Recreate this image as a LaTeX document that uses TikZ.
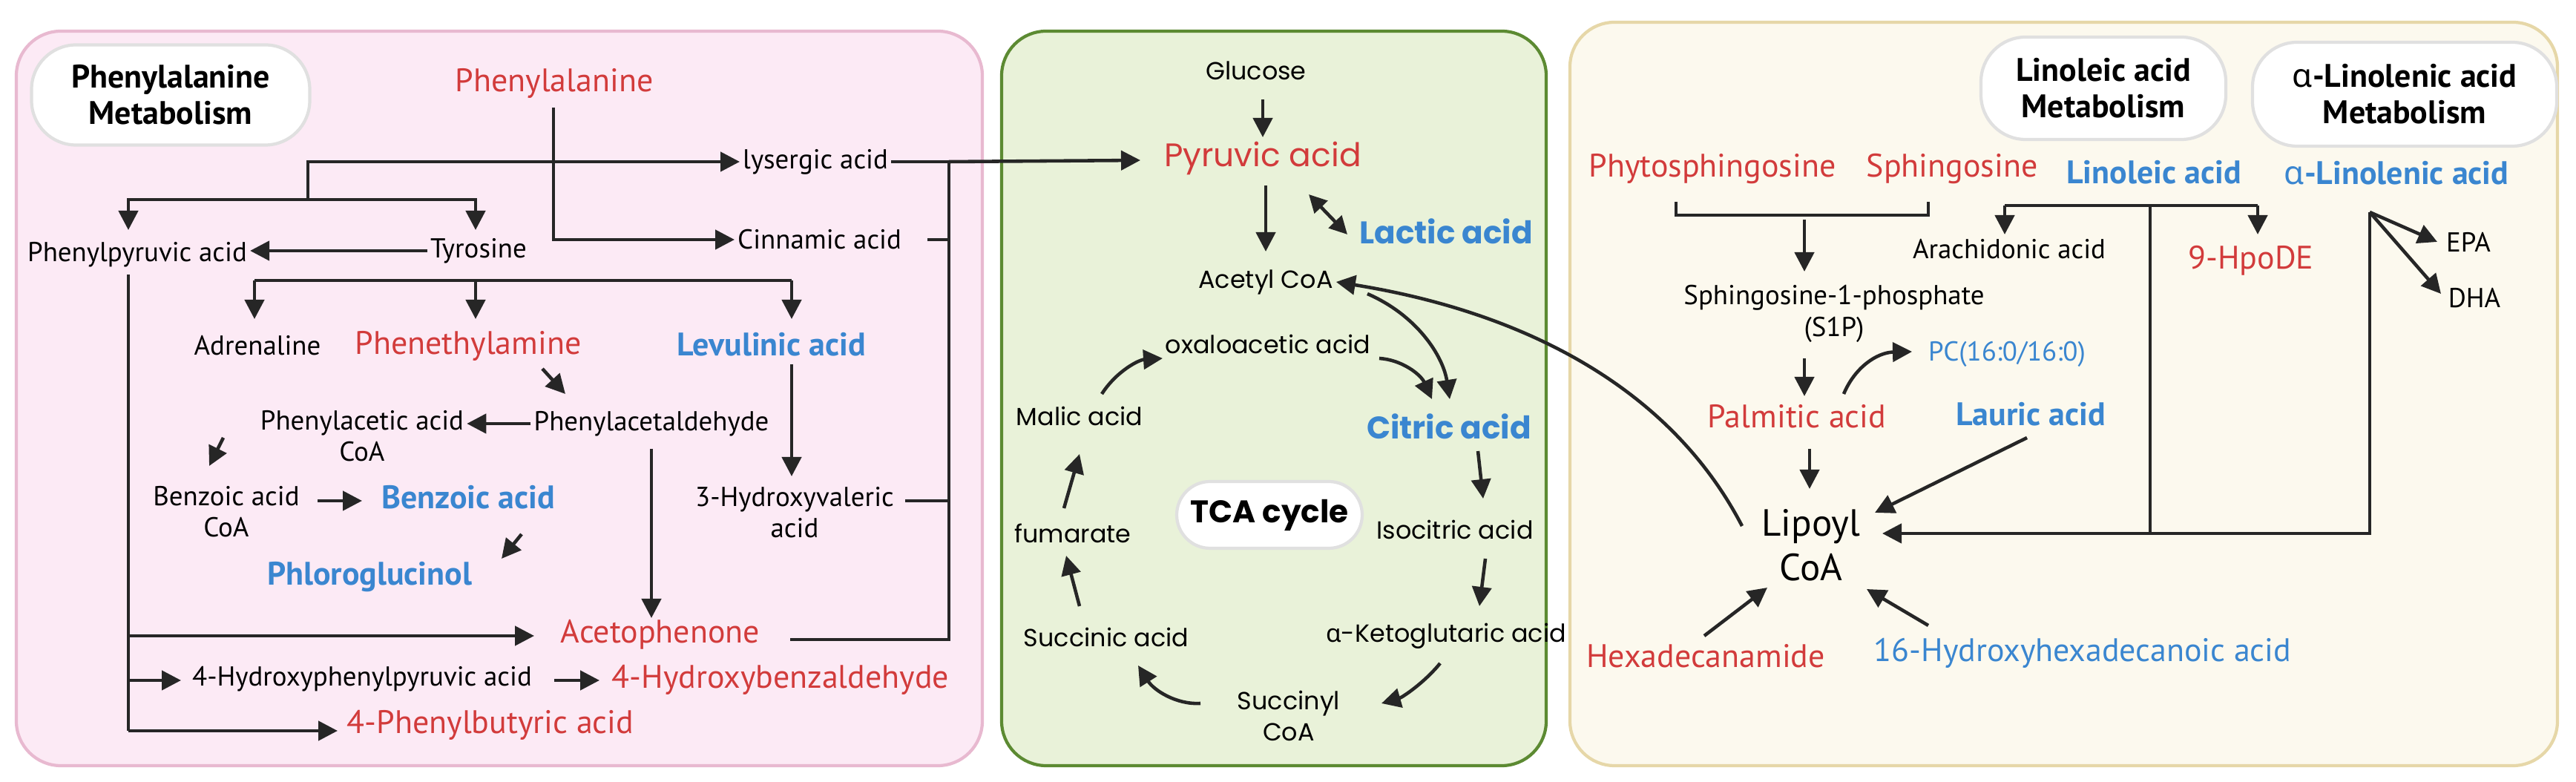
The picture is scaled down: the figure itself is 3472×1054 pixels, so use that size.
\documentclass[tikz,border=0pt]{standalone}
\usepackage{fontspec}
\setmainfont{PT Sans}
\newfontfamily\geo{Poppins}
\newfontfamily\gk{Noto Sans}
\newcommand{\alp}{{\gk α}}
\usetikzlibrary{arrows.meta}
\definecolor{rd}{HTML}{D23B3B}
\definecolor{bl}{HTML}{3A86D0}
\definecolor{pinkF}{HTML}{FCEAF5}\definecolor{pinkD}{HTML}{E8B9D0}
\definecolor{grF}{HTML}{E9F2D9}\definecolor{grD}{HTML}{5C8A32}
\definecolor{crF}{HTML}{FCF9EE}\definecolor{crD}{HTML}{E6D7A8}
\begin{document}
\begin{tikzpicture}[x=0.1mm,y=-0.1mm,
  panel/.style={rounded corners=6mm,line width=1.2pt},
  bub/.style={draw=black!12,fill=white,line width=1.2pt,rounded corners=6mm,align=center,font=\fontsize{12.5}{14}\selectfont\bfseries,inner sep=0pt},
  t/.style={font=\fontsize{10.5}{12}\selectfont,align=center,inner sep=1pt},
  R/.style={font=\fontsize{12.5}{14}\selectfont,text=rd,inner sep=1pt},
  B/.style={font=\fontsize{12.5}{14}\selectfont\bfseries,text=bl,inner sep=1pt},
  g/.style={font=\fontsize{9.5}{12}\selectfont\geo,align=center,inner sep=1pt},
  gR/.style={font=\fontsize{12.5}{14}\selectfont\geo,text=rd,inner sep=1pt},
  gB/.style={font=\fontsize{12}{14}\selectfont\geo\bfseries,text=bl,inner sep=1pt},
  ln/.style={line width=1.3pt,draw=black!85},
  ar/.style={ln,-{Triangle[length=2.6mm,width=2.6mm]}},
  dar/.style={ln,{Triangle[length=2.4mm,width=2.4mm]}-{Triangle[length=2.4mm,width=2.4mm]}}]
\useasboundingbox (0,0) rectangle (3472,1054);
% panels
\draw[panel,fill=pinkF,draw=pinkD] (22,42) rectangle (1324,1032);
\draw[panel,fill=grF,draw=grD] (1350,42) rectangle (2084,1032);
\draw[panel,fill=crF,draw=crD] (2116,30) rectangle (3447,1032);
% ---------- panel 1
\node[bub,minimum width=37.5mm,minimum height=13.5mm] (t1) at (230,128) {Phenylalanine\\Metabolism};
\node[R] (phe) at (747,112) {Phenylalanine};
\node[t,anchor=west] (lys) at (997,218) {lysergic acid};
\node[t,anchor=west] (cin) at (990,323) {Cinnamic acid};
\node[t] (ppa) at (185,343) {Phenylpyruvic acid};
\node[t] (tyr) at (645,338) {Tyrosine};
\node[t] (adr) at (347,466) {Adrenaline};
\node[R] (pea) at (631,466) {Phenethylamine};
\node[B] (lev) at (1040,464) {Levulinic acid};
\node[t] (pald) at (878,571) {Phenylacetaldehyde};
\node[t] (paca) at (488,588) {Phenylacetic acid\\CoA};
\node[t] (bzca) at (305,690) {Benzoic acid\\CoA};
\node[B] (bz) at (631,670) {Benzoic acid};
\node[B] (phl) at (498,778) {Phloroglucinol};
\node[t] (hva) at (1071,691) {3-Hydroxyvaleric\\acid};
\node[R] (aceto) at (890,855) {Acetophenone};
\node[t] (hppa) at (488,915) {4-Hydroxyphenylpyruvic acid};
\node[R] (hbz) at (1052,916) {4-Hydroxybenzaldehyde};
\node[R] (pba) at (661,977) {4-Phenylbutyric acid};
\coordinate (pheb) at (746,145);
\coordinate (k1) at (415,218);
\coordinate (k2) at (415,269);
\draw[ar] (pheb) |- (cin.west);
\draw[ar] (k2) -- (k1) -- (lys.west);
\draw[ar] (k2) -| (173,310);
\draw[ar] (k2) -| (641,310);
\draw[ar] (tyr.west) -- (ppa.east |- tyr.west);
\coordinate (bar1) at (343,378); \coordinate (bar2) at (1067,378);
\draw[ln] (bar1) -- (bar2);
\draw[ar] (bar1) -- (343,430);
\draw[ar] (641,378) -- (641,430);
\draw[ar] (bar2) -- (1067,430);
\draw[ar] (731,497) -- (762,531);
\draw[ar] (pald.west) -- (paca.east |- pald.west);
\draw[ar] (301,590) -- (282,628);
\draw[ar] (428,675) -- (488,675);
\draw[ar] (703,720) -- (676,753);
\draw[ar] (878,605) -- (878,833);
\draw[ar] (1067,491) -- (1067,642);
% right trunk
\coordinate (rt1) at (1279,218); \coordinate (rt2) at (1279,862);
\draw[ln] (lys.east) -- (rt1) -- (rt2) -- (1065,862);
\draw[ln] (1250,323) -- (1279,323);
\draw[ln] (1220,675) -- (1279,675);
% left trunk
\coordinate (lt1) at (173,370); \coordinate (lt2) at (173,985);
\draw[ln] (lt1) -- (lt2);
\draw[ar] (173,857) -- (720,857);
\draw[ar] (173,917) -- (244,917);
\draw[ar] (lt2) -- (455,985);
\draw[ar] (747,917) -- (808,917);
% ---------- panel 2
\node[g] (glu) at (1693,95) {Glucose};
\node[gR] (pyr) at (1702,213) {Pyruvic acid};
\node[gB] (lac) at (1949,312) {Lactic acid};
\node[g] (acc) at (1706,380) {Acetyl CoA};
\node[g] (oxa) at (1709,464) {oxaloacetic acid};
\node[gB] (cit) at (1953,575) {Citric acid};
\node[g] (iso) at (1961,714) {Isocitric acid};
\node[g] (akg) at (1949,857) {\alp-Ketoglutaric acid};
\node[g] (sca) at (1737,965) {Succinyl\\CoA};
\node[g] (suc) at (1491,859) {Succinic acid};
\node[g] (fum) at (1446,719) {fumarate};
\node[g] (mal) at (1455,561) {Malic acid};
\node[bub,font=\fontsize{12}{14}\selectfont\geo\bfseries,minimum width=25mm,minimum height=9mm,rounded corners=4.5mm] (tca) at (1711,694) {TCA cycle};
\draw[ar] (rt1) -- (1537,216);
\draw[ar] (1702,134) -- (1702,185);
\draw[ar] (1706,250) -- (1706,339);
\draw[dar] (1764,262) -- (1816,316);
\draw[ar] (1843,396) .. controls (1910,425) and (1945,480) .. (1954,538);
\draw[ar] (1859,483) .. controls (1890,485) and (1915,505) .. (1930,538);
\draw[ar] (1992,608) -- (1999,672);
\draw[ar] (2002,753) -- (1994,817);
\draw[ar] (1941,894) .. controls (1920,920) and (1890,940) .. (1862,948);
\draw[ar] (1618,948) .. controls (1585,950) and (1555,930) .. (1534,897);
\draw[ar] (1455,817) -- (1437,749);
\draw[ar] (1434,685) -- (1455,612);
\draw[ar] (1485,531) .. controls (1505,500) and (1535,485) .. (1567,483);
% ---------- panel 3
\node[bub,minimum width=33mm,minimum height=13.8mm] (t2) at (2835,119) {Linoleic acid\\Metabolism};
\node[bub,minimum width=41mm,minimum height=14mm] (t3) at (3241,127) {\alp-Linolenic acid\\Metabolism};
\node[R] (phy) at (2308,228) {Phytosphingosine};
\node[R] (sph) at (2631,228) {Sphingosine};
\node[B] (lin) at (2903,232) {Linoleic acid};
\node[B] (aln) at (3230,233) {\alp-Linolenic acid};
\node[t] (s1p) at (2472,423) {Sphingosine-1-phosphate\\(S1P)};
\node[R] (pal) at (2422,561) {Palmitic acid};
\node[t,text=bl] (pc) at (2705,477) {PC(16:0/16:0)};
\node[B] (lau) at (2737,558) {Lauric acid};
\node[font=\fontsize{14.5}{17}\selectfont,align=center,inner sep=1pt] (lip) at (2441,735) {Lipoyl\\CoA};
\node[t] (ara) at (2708,336) {Arachidonic acid};
\node[R] (hpo) at (3034,351) {9-HpoDE};
\node[t] (epa) at (3327,326) {EPA};
\node[t] (dha) at (3335,402) {DHA};
\node[R] (hex) at (2299,884) {Hexadecanamide};
\node[R,text=bl] (hhd) at (2807,880) {16-Hydroxyhexadecanoic acid};
\draw[ln] (2259,272) -- (2259,290) -- (2599,290) -- (2599,272);
\draw[ar] (2432,296) -- (2432,366);
\draw[ar] (2432,483) -- (2432,534);
\draw[ar] (2485,531) .. controls (2500,495) and (2530,475) .. (2577,474);
\draw[ar] (2439,605) -- (2439,659);
\draw[ar] (2732,590) -- (2527,691);
\coordinate (lb1) at (2702,277); \coordinate (lb2) at (3043,277);
\draw[ln] (lb1) -- (lb2);
\draw[ar] (lb1) -- (2702,316);
\draw[ar] (lb2) -- (3043,316);
\draw[ln] (2898,277) -- (2898,719);
\coordinate (al) at (3194,286);
\draw[ar] (al) -- (3194,719) -- (2537,719);
\draw[ar] (al) -- (3285,326);
\draw[ar] (al) -- (3290,396);
\draw[ar] (2297,857) -- (2382,792);
\draw[ar] (2599,843) -- (2516,794);
\draw[ar] (2348,709) .. controls (2250,520) and (2050,420) .. (acc.east);
\end{tikzpicture}
\end{document}
